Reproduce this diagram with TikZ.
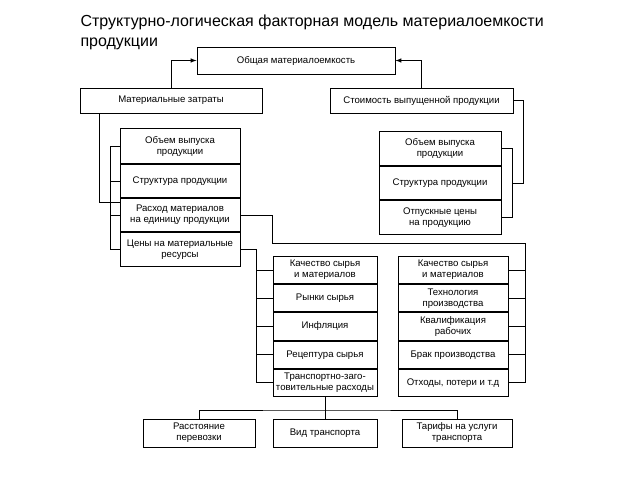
\documentclass[tikz,border=0pt]{standalone}
\usepackage{fontspec}
\setmainfont{Liberation Sans}
\usepackage{tikz}
\usetikzlibrary{positioning, arrows}

\begin{document}
\begin{tikzpicture}[x=1pt, y=-1pt, line width=1pt,
    box/.style={draw, align=center, inner sep=1pt,
      font=\fontsize{9.6}{11}\selectfont},
    row/.style={box, below=0pt of #1}]
          \useasboundingbox (0,0) rectangle (640,480);%
          \node [anchor=north west, inner sep=0, align=left,
          font=\fontsize{16}{20}\selectfont] (title) at (80,14)
          {Структурно-логическая факторная модель материалоемкости\\
            продукции};%

          \node [box, minimum width=198pt, minimum height=27pt] (total)
          at (296,60.5) {Общая материалоемкость};%
          \node [box, minimum width=182pt, minimum height=25pt] (mz)
          at (171,100.5) {Материальные затраты};%
          \node [box, minimum width=183pt, minimum height=25pt] (cost)
          at (421.5,100.5) {Стоимость выпущенной продукции};%

          % left stack
          \node [box, minimum width=120pt, minimum height=35pt, anchor=north]
          (l1) at (180,128) {Объем выпуска\\продукции};%
          \node [row=l1, minimum width=120pt, minimum height=33pt] (l2)
          {Структура продукции};%
          \node [row=l2, minimum width=120pt, minimum height=33pt] (l3)
          {Расход материалов\\на единицу продукции};%
          \node [row=l3, minimum width=120pt, minimum height=34pt] (l4)
          {Цены на материальные\\ресурсы};%

          % right stack
          \node [box, minimum width=122pt, minimum height=34pt, anchor=north]
          (r1) at (440,131) {Объем выпуска\\продукции};%
          \node [row=r1, minimum width=122pt, minimum height=33pt] (r2)
          {Структура продукции};%
          \node [row=r2, minimum width=122pt, minimum height=34pt] (r3)
          {Отпускные цены\\на продукцию};%

          % middle stacks
          \node [box, minimum width=104pt, minimum height=27.2pt, anchor=north]
          (m1) at (325,256) {Качество сырья\\и материалов};%
          \node [row=m1, minimum width=104pt, minimum height=27.2pt] (m2)
          {Рынки сырья};%
          \node [row=m2, minimum width=104pt, minimum height=27.2pt] (m3)
          {Инфляция};%
          \node [row=m3, minimum width=104pt, minimum height=27.2pt] (m4)
          {Рецептура сырья};%
          \node [row=m4, minimum width=104pt, minimum height=27.2pt] (m5)
          {Транспортно-заго-\\товительные расходы};%

          \node [box, minimum width=110pt, minimum height=27.2pt, anchor=north]
          (n1) at (453,256) {Качество сырья\\и материалов};%
          \node [row=n1, minimum width=110pt, minimum height=27.2pt] (n2)
          {Технология\\производства};%
          \node [row=n2, minimum width=110pt, minimum height=27.2pt] (n3)
          {Квалификация\\рабочих};%
          \node [row=n3, minimum width=110pt, minimum height=27.2pt] (n4)
          {Брак производства};%
          \node [row=n4, minimum width=110pt, minimum height=27.2pt] (n5)
          {Отходы, потери и т.д};%

          % bottom row
          \node [box, minimum width=112pt, minimum height=28pt] (b1)
          at (199,433) {Расстояние\\перевозки};%
          \node [box, minimum width=104pt, minimum height=28pt] (b2)
          at (325,433) {Вид транспорта};%
          \node [box, minimum width=110pt, minimum height=28pt] (b3)
          at (457,433) {Тарифы на услуги\\транспорта};%

          \draw [-latex] (mz.north) |- (total.west);%
          \draw [-latex] (cost.north) |- (total.east);%

          \draw ([xshift=20pt]mz.south west) |- ([yshift=-4pt]l3.north west);%
          \draw (l1.west) -- ++(-9,0) |- (l4.west);%
          \draw (l2.west) -- ++(-9,0);%
          \draw (l3.west) -- ++(-9,0);%

          \draw (cost.east) -- ++(10,0) |- ([xshift=11pt]r2.east);%
          \draw (r1.east) -- ++(11,0) |- (r3.east);%

          \draw (l3.east) -| ([yshift=13pt]m1.north west)
          -- ([yshift=13pt, xshift=17pt]n1.north east) |- (n5.east);%
          \foreach \i in {1,...,4}
          \draw (n\i.east) -- ++(17,0);%

          \draw (l4.east) -| ([xshift=-16pt]m5.west) -- (m5.west);%
          \foreach \i in {1,...,4}
          \draw (m\i.west) -- ++(-16,0);%

          \draw (m5.south) -- ++(0,13) coordinate (fork);%
          \draw (b1.north) |- (fork) -| (b3.north);%
          \draw (b2.north) -- (b2.north |- fork);%
        \end{tikzpicture}
\end{document}
